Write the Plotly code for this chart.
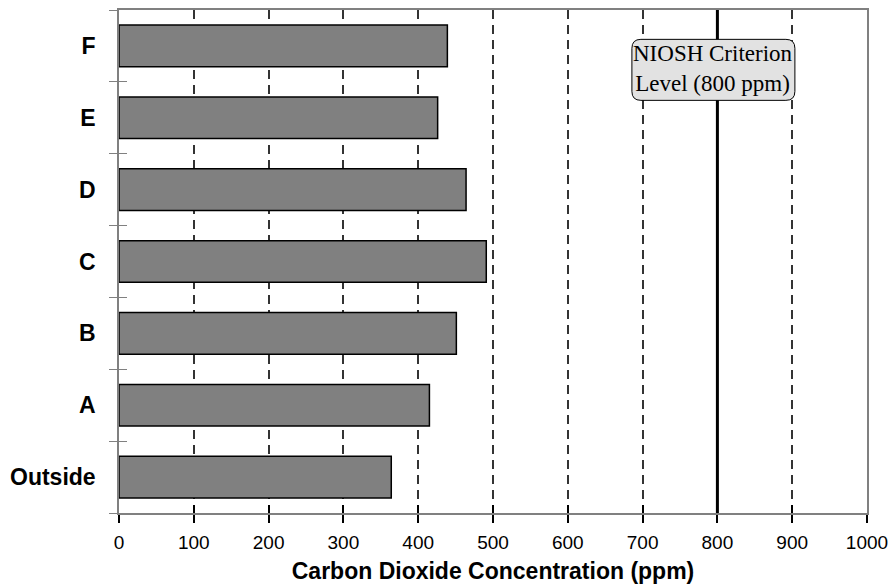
import plotly.graph_objects as go

categories = ["Outside", "A", "B", "C", "D", "E", "F"]
co2_ppm = [364, 415, 451, 491, 464, 426, 439]
x_ticks = [0, 100, 200, 300, 400, 500, 600, 700, 800, 900, 1000]
niosh_level = 800
niosh_label = "NIOSH Criterion<br>Level (800 ppm)"

fig = go.Figure()
fig.add_trace(go.Bar(
    x=co2_ppm, y=categories, orientation="h",
    marker=dict(color="#808080", line=dict(color="#000000", width=1.5)),
    hoverinfo="x+y", showlegend=False,
))
# invisible companion trace for inner half of crossing ticks
fig.add_trace(go.Bar(
    x=co2_ppm, y=categories, orientation="h", xaxis="x2", yaxis="y2",
    marker=dict(opacity=0), hoverinfo="skip", showlegend=False,
))

axis_font = dict(family="Liberation Sans, Arial, sans-serif", size=19, color="#000000")

fig.update_layout(
    width=889, height=586,
    margin=dict(l=119, r=22, t=10, b=73),
    paper_bgcolor="white", plot_bgcolor="white",
    bargap=0.42,
    font=axis_font,
    xaxis=dict(
        range=[0, 1000], tickvals=x_ticks, ticktext=[str(v) for v in x_ticks],
        showgrid=True, gridcolor="#333333", gridwidth=1.5, griddash="9px,6px",
        zeroline=False, showline=True, linecolor="#808080", linewidth=1.5, mirror=True,
        ticks="outside", ticklen=8, tickwidth=1.5, tickcolor="#000000",
        tickfont=dict(size=19), ticklabelstandoff=3, automargin=False,
        title=dict(text="Carbon Dioxide Concentration (ppm)",
                   font=dict(size=23, weight="bold"), standoff=11),
    ),
    xaxis2=dict(
        overlaying="x", matches="x", range=[0, 1000], tickvals=x_ticks,
        showticklabels=False, showgrid=False, zeroline=False, showline=False,
        ticks="inside", ticklen=8, tickwidth=1.5, tickcolor="#000000",
    ),
    yaxis=dict(
        type="category", categoryorder="array", categoryarray=categories,
        range=[-0.5, 6.5], tickson="boundaries",
        showgrid=False, zeroline=False, showline=True, linecolor="#808080", linewidth=1.5, mirror=True,
        ticks="outside", ticklen=8, tickwidth=1.2, tickcolor="#808080",
        tickfont=dict(size=23, weight="bold"), ticklabelstandoff=17, automargin=False,
    ),
    yaxis2=dict(
        overlaying="y", matches="y", type="category", categoryorder="array", categoryarray=categories,
        range=[-0.5, 6.5], tickson="boundaries",
        showticklabels=False, showgrid=False, zeroline=False, showline=False,
        ticks="inside", ticklen=8, tickwidth=1.2, tickcolor="#808080",
    ),
)

# NIOSH criterion line
fig.add_shape(type="line", xref="x", yref="paper", x0=niosh_level, x1=niosh_level, y0=0, y1=1,
              line=dict(color="#000000", width=3), layer="above")

# rounded label box (pixel-sized, anchored at the criterion line)
w, h, r, dx = 81.5, 30.5, 9, -4
path = (f"M {dx - w + r},{-h} L {dx + w - r},{-h} Q {dx + w},{-h} {dx + w},{-h + r} "
        f"L {dx + w},{h - r} Q {dx + w},{h} {dx + w - r},{h} "
        f"L {dx - w + r},{h} Q {dx - w},{h} {dx - w},{h - r} "
        f"L {dx - w},{-h + r} Q {dx - w},{-h} {dx - w + r},{-h} Z")
fig.add_shape(type="path", xref="x", yref="paper", xsizemode="pixel", ysizemode="pixel",
              xanchor=niosh_level, yanchor=0.881, path=path,
              fillcolor="#e2e2e2", line=dict(color="#000000", width=1), layer="above")
fig.add_annotation(x=niosh_level, y=0.881, xref="x", yref="paper", text=niosh_label,
                   xanchor="center", yanchor="middle", xshift=dx, yshift=1,
                   showarrow=False, align="center",
                   font=dict(family="Liberation Serif, Times New Roman, serif", size=23, color="#000000"))

fig.write_html("out.html", config={"displayModeBar": False},
               post_script="document.body.style.margin='0';document.body.style.overflow='hidden';")
